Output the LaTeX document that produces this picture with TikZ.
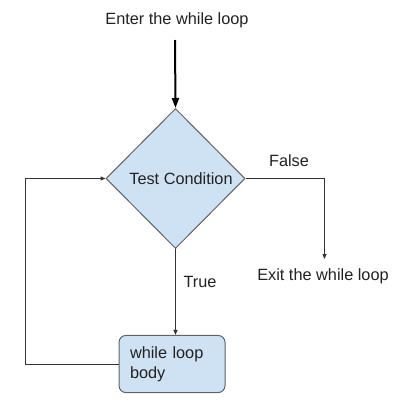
\documentclass[tikz,border=0pt]{standalone}
\usepackage{fontspec}
\setmainfont{Liberation Sans}
\usetikzlibrary{shapes.geometric,arrows.meta}
\definecolor{boxfill}{HTML}{CFE2F3}
\definecolor{boxline}{HTML}{5F6368}
\definecolor{txt}{HTML}{222222}
\definecolor{ln}{HTML}{333333}
\tikzset{
  lbl/.style={font=\fontsize{16.3}{20}\selectfont, text=txt, inner sep=0pt},
  decision/.style={diamond, draw=boxline, fill=boxfill, line width=1pt, minimum width=139pt, minimum height=140pt, inner sep=0pt, font=\fontsize{16.3}{20}\selectfont, text=txt},
  bodybox/.style={rectangle, rounded corners=7pt, draw=boxline, fill=boxfill, line width=1pt, minimum width=106pt, minimum height=54pt, text width=84pt, inner sep=11pt, align=left, font=\fontsize{16.3}{20}\selectfont, text=txt},
  conn/.style={draw=ln, line width=1pt, -{Triangle[length=5pt,width=4pt]}},
  thickconn/.style={draw=black, line width=2pt, -{Triangle[length=10pt,width=7pt]}}
}
\begin{document}
\begin{tikzpicture}[x=1pt,y=-1pt]
\useasboundingbox[fill=white] (0,0) rectangle (404,405);
\node[lbl] (enter) at (177,20) {Enter the while loop};
\coordinate (entrystart) at (175,40);
\node[decision] (test) at (175.5,178.5) {\hspace*{11pt}Test Condition};
\node[lbl] (false) at (289,161) {False};
\coordinate (fcorner) at (324.5,178.5);
\coordinate (fend) at (324.5,259);
\node[lbl] (exit) at (323,276) {Exit the while loop};
\node[lbl] (true) at (200,282) {True};
\node[bodybox] (body) at (172,364) {while loop\\body};
\coordinate (lb) at (25,364);
\coordinate (lt) at (25,178.5);
\draw[thickconn] (entrystart) -- (test.north);
\draw[conn] (test.east) -- (fcorner) -- (fend);
\draw[conn] (test.south) -- (body.north -| test.south);
\draw[conn] (body.west) -- (lb) -- (lt) -- (test.west);
\end{tikzpicture}
\end{document}
